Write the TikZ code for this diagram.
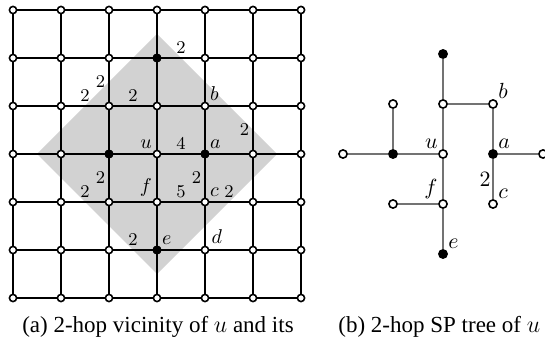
\documentclass[tikz,border=0pt]{standalone}
\usepackage[no-math]{fontspec}
\setmainfont{Liberation Serif}
\usetikzlibrary{positioning}

\begin{document}
\begin{tikzpicture}[
  x=0.5pt,y=-0.5pt,
  vtx/.style={circle,draw,fill=white,line width=0.8pt,inner sep=0pt,minimum size=3.6pt},
  hit/.style={vtx,fill=black},
  tvtx/.style={circle,draw,fill=white,line width=0.8pt,inner sep=0pt,minimum size=4.1pt},
  thit/.style={tvtx,fill=black},
  gedge/.style={line width=0.6pt},
  tedge/.style={line width=0.8pt,draw=black!55},
  wt/.style={font=\fontsize{8.8}{10}\selectfont,inner sep=1.8pt},
  lbl/.style={font=\fontsize{9.8}{11}\selectfont,inner sep=0.8pt},
  tlbl/.style={font=\fontsize{10.5}{12}\selectfont,inner sep=0.8pt},
  captxt/.style={font=\fontsize{11.5}{13}\selectfont,inner sep=0pt}
]
  \useasboundingbox (0,0) rectangle (545,346);

  % 2-hop vicinity of u
  \fill[gray!35] (157,34) -- (277,154) -- (157,274) -- (37,154) -- cycle;

  \foreach \i in {0,...,6}
    \foreach \j in {0,...,6}
      \node[vtx] (g-\i-\j) at ({13+48*\i},{10+48*\j}) {};
  \foreach \p in {3-1,2-3,4-3,3-5}
    \node[hit] (h-\p) at (g-\p) {};

  \foreach \i in {0,...,6}
    \foreach \j in {0,...,5} {
      \pgfmathtruncatemacro{\k}{\j+1}
      \draw[gedge] (g-\i-\j) -- (g-\i-\k);
      \draw[gedge] (g-\j-\i) -- (g-\k-\i);
    }

  \node[lbl,above left=0pt of g-3-3] (lu) {$u$};
  \node[lbl,above right=0pt of g-4-3] (la) {$a$};
  \node[lbl,above right=0pt of g-4-2] (lb) {$b$};
  \node[lbl,above right=0pt of g-4-4] (lc) {$c$};
  \node[lbl,above right=1pt of g-4-5] (ld) {$d$};
  \node[lbl,above right=0pt of g-3-5] (le) {$e$};
  \node[lbl,above left=0pt of g-3-4] (lf) {$f$};

  \path (g-3-1) -- node[wt,above] (w1) {$2$} (g-4-1);
  \path (g-2-1) -- node[wt,left] (w2) {$2$} (g-2-2);
  \path (g-1-2) -- node[wt,above] (w3) {$2$} (g-2-2);
  \path (g-2-2) -- node[wt,above] (w4) {$2$} (g-3-2);
  \path (g-5-2) -- node[wt,left] (w5) {$2$} (g-5-3);
  \path (g-3-3) -- node[wt,above] (w6) {$4$} (g-4-3);
  \path (g-2-3) -- node[wt,left] (w7) {$2$} (g-2-4);
  \path (g-1-4) -- node[wt,above] (w8) {$2$} (g-2-4);
  \path (g-4-3) -- node[wt,left] (w9) {$2$} (g-4-4);
  \path (g-3-4) -- node[wt,above] (w10) {$5$} (g-4-4);
  \path (g-4-4) -- node[wt,above] (w11) {$2$} (g-5-4);
  \path (g-2-5) -- node[wt,above] (w12) {$2$} (g-3-5);

  % 2-hop SP tree of u
  \node[thit] (t-top) at (443,54) {};
  \node[tvtx] (t-p) at (393,104) {};
  \node[tvtx] (t-q) at (443,104) {};
  \node[tvtx] (t-b) at (493,104) {};
  \node[tvtx] (t-l) at (343,154) {};
  \node[thit] (t-m) at (393,154) {};
  \node[tvtx] (t-u) at (443,154) {};
  \node[thit] (t-a) at (493,154) {};
  \node[tvtx] (t-r) at (543,154) {};
  \node[tvtx] (t-g) at (393,204) {};
  \node[tvtx] (t-f) at (443,204) {};
  \node[tvtx] (t-c) at (493,204) {};
  \node[thit] (t-e) at (443,254) {};

  \draw[tedge] (t-top) -- (t-q);
  \draw[tedge] (t-q) -- (t-b);
  \draw[tedge] (t-b) -- (t-a);
  \draw[tedge] (t-q) -- (t-u);
  \draw[tedge] (t-p) -- (t-m);
  \draw[tedge] (t-l) -- (t-m);
  \draw[tedge] (t-m) -- (t-u);
  \draw[tedge] (t-a) -- (t-r);
  \draw[tedge] (t-a) -- node[tlbl,left] (tw) {$2$} (t-c);
  \draw[tedge] (t-u) -- (t-f);
  \draw[tedge] (t-g) -- (t-f);
  \draw[tedge] (t-f) -- (t-e);

  \node[tlbl,above right=0pt of t-b] (tlb) {$b$};
  \node[tlbl,above left=0pt of t-u] (tlu) {$u$};
  \node[tlbl,above right=0pt of t-a] (tla) {$a$};
  \node[tlbl,above left=0pt of t-f] (tlf) {$f$};
  \node[tlbl,above right=0pt of t-c] (tlc) {$c$};
  \node[tlbl,above right=0pt of t-e] (tle) {$e$};

  \node[captxt,anchor=base] (capa) at (158,333) {(a) 2-hop vicinity of $u$ and its};
  \node[captxt,anchor=base west] (capb) at (338,333) {(b) 2-hop SP tree of $u$};
\end{tikzpicture}
\end{document}
